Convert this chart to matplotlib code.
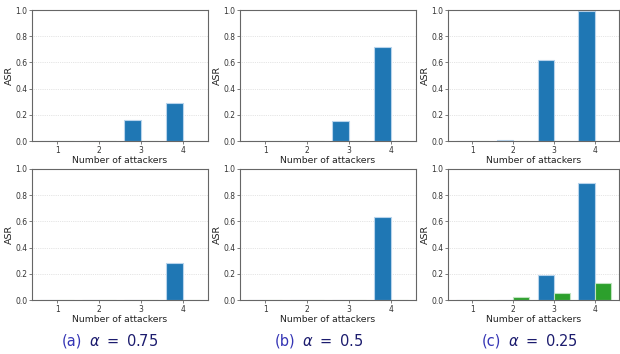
import numpy as np
import matplotlib
matplotlib.use('Agg')
import matplotlib.pyplot as plt

# data
attackers = [1, 2, 3, 4]
blue_top = [[0, 0, 0.16, 0.29], [0, 0, 0.15, 0.72], [0, 0.01, 0.62, 0.99]]
blue_bottom = [[0, 0, 0, 0.28], [0, 0, 0, 0.63], [0, 0, 0.19, 0.89]]
green_top = [[0, 0, 0, 0], [0, 0, 0, 0], [0, 0, 0, 0]]
green_bottom = [[0, 0, 0, 0], [0, 0, 0, 0], [0, 0.02, 0.05, 0.13]]
labels = ['(a)', '(b)', '(c)']
alphas = ['0.75', '0.5', '0.25']

W, H = 620, 354
fig = plt.figure(figsize=(W/100, H/100), dpi=100)

lefts = [32, 240, 448]
widths = [176, 176, 171]
rows = [(10, 141), (169, 300)]
spine_c = '#666666'

def draw(ax, blue, green):
	x = np.array(attackers)
	ax.bar(x - 0.2, blue, 0.4, color='#1f77b4', edgecolor='#b8d4ec', lw=0.8)
	ax.bar(x + 0.2, green, 0.4, color='#2ca02c', edgecolor='#bfe3bf', lw=0.8)
	ax.set_xlim(0.4, 4.6)
	ax.set_ylim(0, 1.0)
	ax.set_xticks(attackers)
	ax.set_yticks([0, 0.2, 0.4, 0.6, 0.8, 1.0])
	ax.grid(axis='y', ls=':', lw=0.5, color='#cccccc')
	ax.set_axisbelow(True)
	ax.tick_params(labelsize=5.5, length=2, width=0.6, color=spine_c, labelcolor='#333333', pad=1.5)
	for s in ax.spines.values():
		s.set_color(spine_c)
		s.set_linewidth(0.8)
	ax.set_ylabel('ASR', fontsize=6.8, labelpad=0.5, color='#222222')
	ax.set_xlabel('Number of attackers', fontsize=6.7, labelpad=1, color='#222222')

for i in range(3):
	for r, (top, bot) in enumerate(rows):
		ax = fig.add_axes([lefts[i]/W, 1 - bot/H, widths[i]/W, (bot - top)/H])
		if r == 0:
			draw(ax, blue_top[i], green_top[i])
		else:
			draw(ax, blue_bottom[i], green_bottom[i])

cap_x = [82, 295, 501]
for i in range(3):
	fig.text(cap_x[i]/W, 1 - 341/H, labels[i], color='#3535b5', fontsize=10.5, ha='right', va='center')
	fig.text((cap_x[i] + 7)/W, 1 - 341/H, r'$\alpha\ =\ ' + alphas[i] + '$', color='#1c1c6e', fontsize=10.5, ha='left', va='center')

fig.savefig('out.png', dpi=100)
